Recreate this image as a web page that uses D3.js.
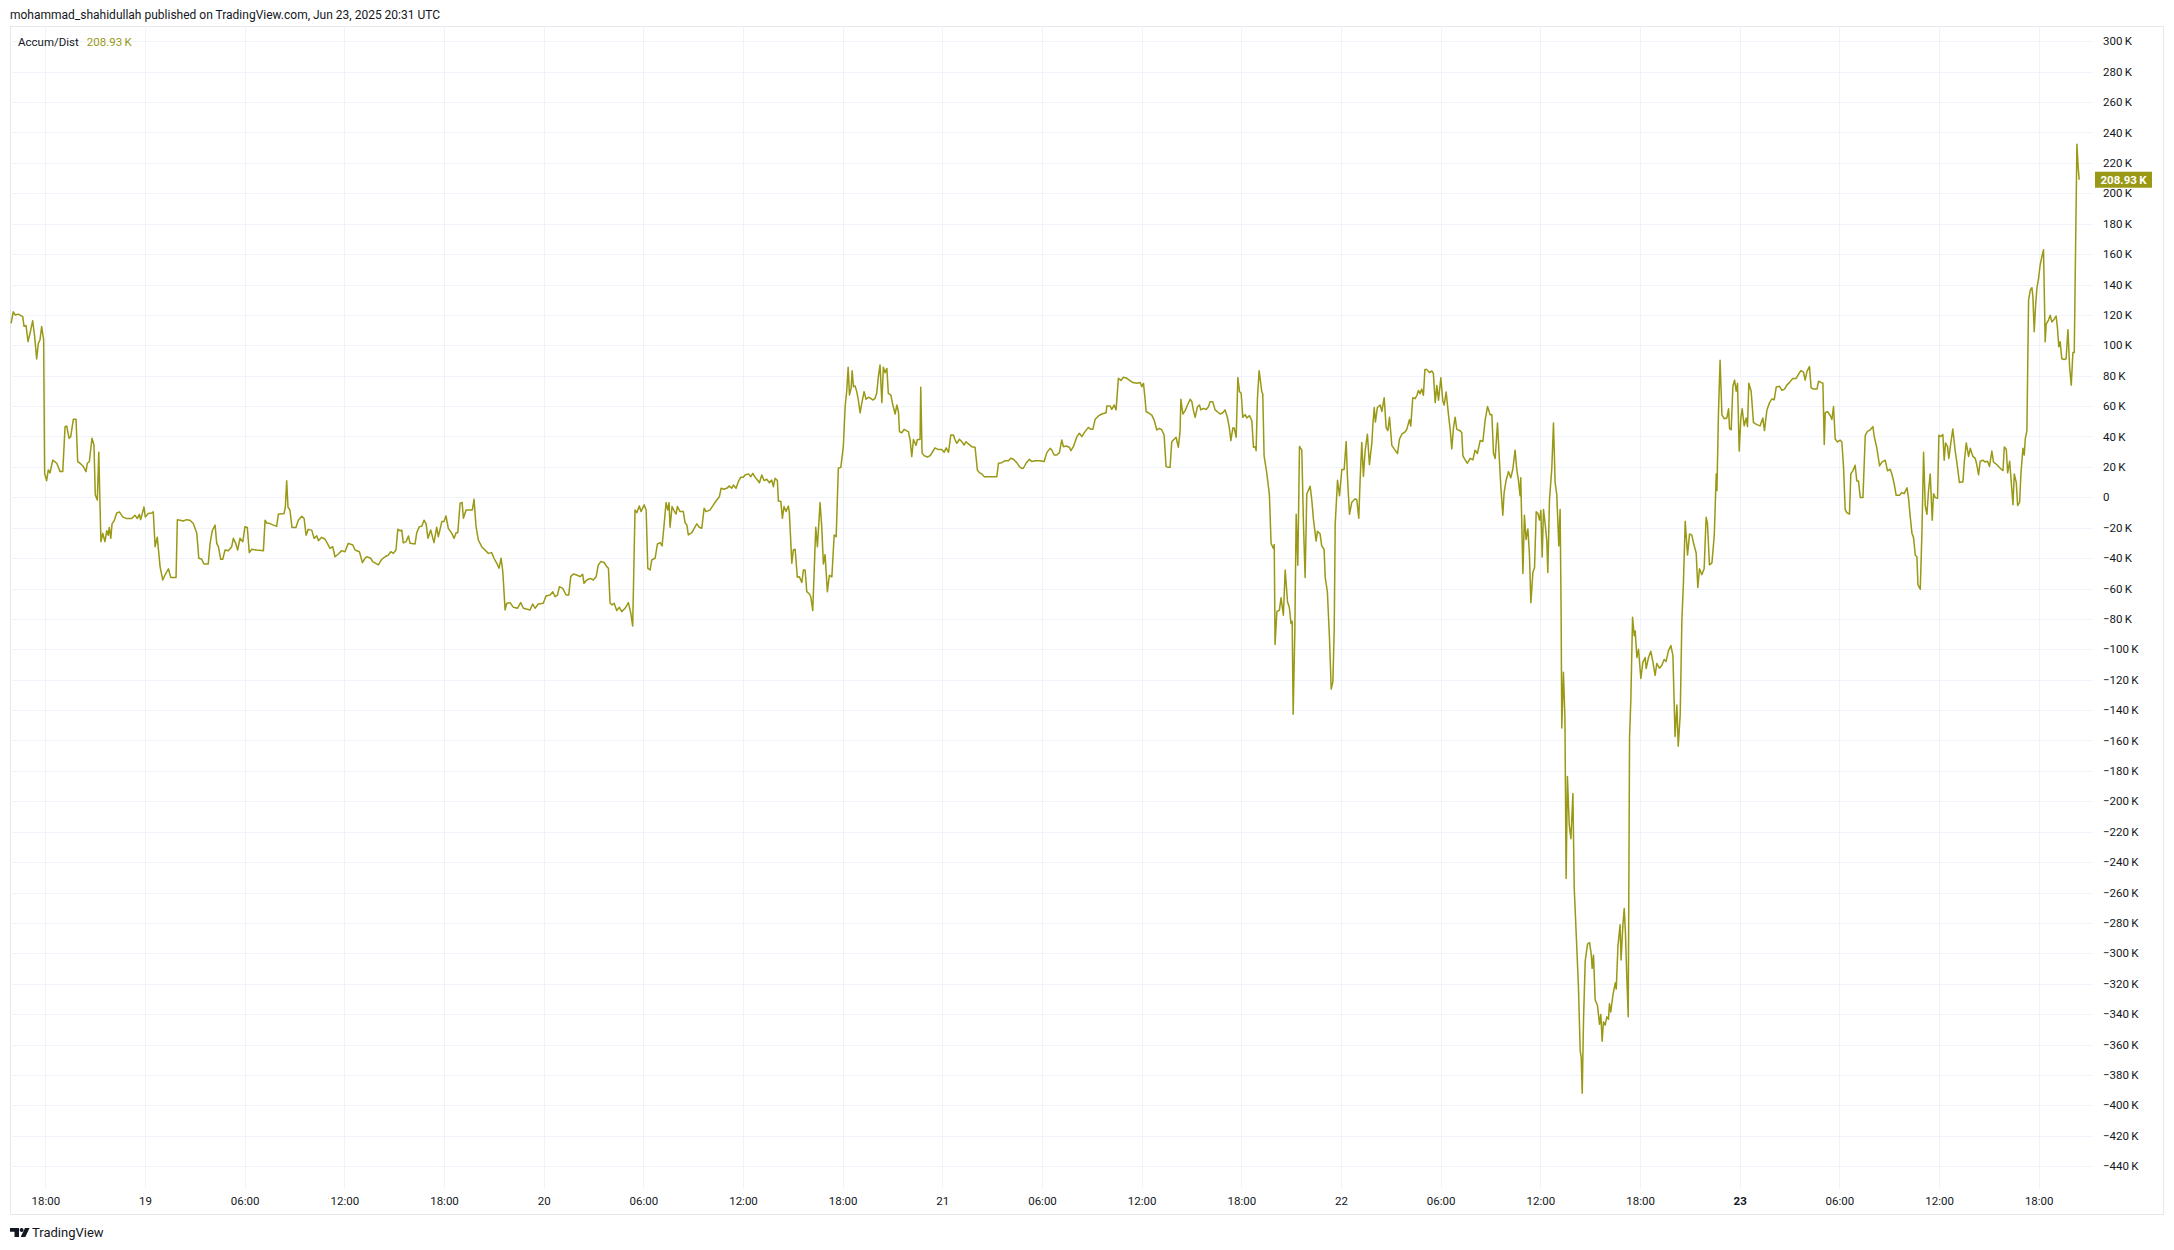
<!DOCTYPE html>
<html><head><meta charset="utf-8">
<script src="https://cdn.jsdelivr.net/npm/d3@7"></script>
<style>html,body{margin:0;padding:0;background:#fff;}svg{display:block;font-family:Roboto,"Noto Sans",sans-serif;}</style>
</head><body><svg id="chart" width="2174" height="1250"></svg>
<script>
// ---- DATA ----
// time of each point, hours since 2025-06-18 00:00 UTC
const hours = [
15.94,16.07,16.18,16.37,16.64,16.72,16.84,16.96,17.08,17.24,17.36,17.48,17.58,17.68,17.78,17.90,17.96,18.08,18.18,18.28,
18.45,18.69,18.89,19.05,19.19,19.29,19.43,19.53,19.69,19.85,19.95,20.09,20.29,20.45,20.53,20.65,20.81,20.93,21.01,21.13,
21.22,21.29,21.35,21.46,21.59,21.70,21.79,21.85,21.94,22.02,22.14,22.30,22.46,22.66,22.90,23.20,23.40,23.54,23.66,23.74,
23.94,24.02,24.20,24.41,24.50,24.61,24.74,24.91,25.07,25.21,25.41,25.55,25.87,25.95,26.11,26.31,26.51,26.71,26.91,27.12,
27.24,27.42,27.55,27.81,27.92,28.05,28.22,28.32,28.42,28.56,28.68,28.82,29.02,29.22,29.32,29.46,29.58,29.72,29.89,30.02,
30.16,30.28,30.43,30.73,31.13,31.23,31.33,31.53,31.73,31.93,32.03,32.37,32.45,32.53,32.61,32.73,32.85,33.09,33.23,33.44,
33.58,33.70,33.83,34.04,34.18,34.34,34.44,34.64,34.84,34.98,35.14,35.30,35.44,35.64,35.84,36.04,36.24,36.51,36.65,36.91,
37.09,37.25,37.35,37.59,37.71,38.05,38.25,38.45,38.65,38.80,38.95,39.11,39.22,39.36,39.46,39.55,39.72,39.86,39.96,40.26,
40.36,40.52,40.66,40.80,40.92,41.04,
41.20,41.40,41.56,41.66,41.87,42.00,42.12,42.26,42.47,42.61,42.73,42.83,42.97,43.09,43.17,43.33,43.57,43.71,43.81,43.93,
44.07,44.27,44.47,44.67,44.87,45.01,45.18,45.31,45.44,45.54,45.68,45.78,45.98,46.18,46.42,46.62,46.78,47.02,47.18,47.34,
47.48,47.68,47.98,48.14,48.39,48.55,48.69,48.83,48.95,49.15,49.35,49.51,49.63,49.79,49.99,50.19,50.35,50.43,50.60,50.80,
50.99,51.16,51.29,51.44,51.64,51.80,51.90,52.00,52.12,52.24,52.40,52.56,52.70,52.90,53.10,53.24,53.36,53.50,53.61,53.76,
53.86,54.05,54.17,54.27,54.41,54.51,54.71,54.85,55.01,55.13,55.25,55.37,55.47,55.55,55.61,55.73,55.85,55.97,56.05,56.21,
56.41,56.51,56.62,56.71,56.92,57.12,57.22,57.37,57.52,57.66,57.78,58.02,58.22,58.42,58.58,58.68,58.86,59.02,59.18,59.32,
59.42,59.58,59.72,59.87,60.02,60.12,60.33,60.47,60.59,60.73,60.87,60.99,61.13,61.27,61.43,61.59,61.73,61.83,61.93,62.07,
62.13,62.28,62.37,62.47,62.59,62.73,62.79,62.94,63.03,63.14,63.27,63.39,63.54,63.64,63.74,63.84,64.00,64.08,64.20,64.38,
64.48,64.64,64.74,64.84,64.94,65.08,65.20,65.35,65.49,65.61,65.74,65.89,
66.04,66.15,66.25,66.33,66.41,66.51,66.57,66.65,66.75,66.85,66.95,67.05,67.15,67.29,67.41,67.55,67.69,67.81,67.95,68.05,
68.15,68.25,68.36,68.45,68.55,68.66,68.75,68.90,69.02,69.16,69.26,69.36,69.42,69.56,69.70,69.82,69.96,70.06,70.16,70.26,
70.42,70.50,70.66,70.70,70.78,70.90,71.10,71.27,71.43,71.56,71.76,71.97,72.11,72.23,72.37,72.51,72.67,72.77,72.87,73.03,
73.17,73.31,73.43,73.57,73.77,73.97,74.11,74.23,74.38,74.52,74.88,75.28,75.38,75.58,75.78,75.98,76.12,76.28,76.48,76.64,
76.78,76.88,77.04,77.24,77.39,77.59,77.89,78.13,78.29,78.49,78.59,78.73,78.89,79.05,79.19,79.29,79.45,79.65,79.74,79.89,
80.10,80.25,80.40,80.59,80.79,80.94,81.06,81.20,81.40,81.60,81.86,81.90,82.10,82.20,82.34,82.46,82.54,82.60,82.75,82.90,
83.11,83.30,83.47,83.71,83.91,84.01,84.11,84.21,84.27,84.41,84.61,84.75,84.91,85.07,85.21,85.35,85.47,85.61,85.71,85.81,
85.95,86.07,86.21,86.31,86.36,86.48,86.62,86.76,86.92,87.02,87.12,87.22,87.36,87.48,87.56,87.72,87.88,88.02,88.12,88.28,
88.42,88.56,88.72,88.88,89.02,89.16,89.28,89.37,89.49,89.57,89.69,89.79,89.89,89.99,90.09,90.23,90.33,90.49,90.63,90.73,
90.83,90.89,90.97,91.07,91.23,91.29,
91.37,91.53,91.69,91.79,91.93,91.98,92.03,92.14,92.29,92.39,92.53,92.64,92.78,92.89,92.99,93.06,93.12,93.22,93.30,93.40,
93.50,93.64,93.74,93.84,93.94,94.14,94.24,94.34,94.50,94.58,94.74,94.84,94.98,95.05,95.18,95.30,95.41,95.51,95.59,95.65,
95.79,95.91,96.05,96.19,96.31,96.39,96.51,96.65,96.85,96.95,97.07,97.15,97.25,97.35,97.45,97.59,97.71,97.86,97.92,98.00,
98.07,98.19,98.36,98.46,98.60,98.72,98.82,98.92,99.06,99.20,99.40,99.52,99.66,99.86,99.96,100.12,100.20,100.32,100.46,100.57,
100.66,100.76,100.86,100.96,101.05,101.17,101.32,101.47,101.56,101.67,101.77,101.87,102.01,102.13,102.21,102.33,102.47,102.57,102.67,102.77,
102.87,102.97,103.17,103.27,103.34,103.47,103.61,103.77,103.94,104.07,104.21,104.38,104.54,104.68,104.82,104.98,105.08,105.18,105.28,105.42,
105.54,105.62,105.74,105.82,105.94,106.08,106.22,106.34,106.48,106.58,106.68,106.78,106.82,106.95,107.04,107.14,107.25,107.34,107.43,107.55,
107.65,107.75,107.85,107.95,108.03,108.11,108.19,108.29,108.39,108.45,108.55,108.69,108.79,108.89,108.99,109.11,109.19,109.25,109.29,109.39,
109.48,109.55,109.63,109.74,109.84,109.96,110.04,110.16,110.29,110.40,110.46,110.52,110.60,110.70,110.84,110.96,111.06,111.12,111.20,111.30,
111.44,111.56,111.64,111.72,111.80,111.90,112.00,112.10,112.16,112.24,112.37,112.51,112.57,112.67,112.80,112.86,112.97,113.05,113.12,113.21,
113.29,113.37,113.45,113.55,113.65,113.71,113.81,113.91,114.05,114.17,114.31,114.37,114.51,114.65,
114.77,114.91,115.01,115.17,115.31,115.45,115.57,115.71,115.86,115.98,116.05,116.11,116.22,116.30,116.42,116.52,116.61,116.72,116.86,116.98,
117.12,117.22,117.38,117.48,117.58,117.72,117.86,117.98,118.06,118.18,118.33,118.47,118.59,118.63,118.72,118.82,118.93,119.07,119.23,119.33,
119.39,119.49,119.59,119.69,119.79,119.87,119.97,120.07,120.15,120.27,120.39,120.47,120.55,120.69,120.83,121.03,121.23,121.39,121.49,121.64,
121.79,121.94,122.08,122.20,122.40,122.54,122.70,122.84,123.00,123.20,123.40,123.54,123.68,123.84,123.94,124.05,124.20,124.30,124.44,124.65,
124.75,124.89,125.01,125.09,125.15,125.29,125.45,125.55,125.65,125.75,125.89,126.05,126.15,126.25,126.35,126.45,126.61,126.69,126.81,126.95,
127.05,127.15,127.26,127.42,127.56,127.69,127.86,128.02,128.10,128.26,128.42,128.56,128.76,128.90,129.06,129.16,129.30,129.42,129.62,129.76,
129.90,130.07,130.16,130.27,130.37,130.46,130.57,130.67,130.73,130.87,130.97,131.07,131.17,131.27,131.37,131.47,131.59,131.67,131.77,131.91,
131.99,132.11,132.23,132.31,132.39,132.51,132.59,132.71,132.83,132.97,133.07,133.23,133.44,133.52,133.64,133.78,133.88,134.04,134.18,134.28,
134.38,134.48,134.64,134.78,134.92,135.04,135.18,135.28,135.44,135.58,135.73,135.85,135.93,136.05,136.13,136.25,136.33,136.45,136.53,136.65,
136.73,136.85,136.93,137.05,137.13,137.19,137.29,137.39,137.49,137.59,137.65,137.73,137.81,137.89,137.99,138.09,138.19,138.29,138.39,138.45,
138.59,138.69,138.79,138.93,139.05,139.13,139.21,139.29,139.39,139.53,139.65,139.76,139.86,139.96,140.06,140.14,140.22,140.30,140.38,140.44
];
// Accum/Dist value, thousands
const valuesK = [
114.4,122,120,120.5,118.9,112.5,113,102.4,107.9,116.2,105.7,91,101.3,103.5,112.3,103.5,15.8,10.9,18,16,
24.5,22.4,16.9,16.9,46.5,46.9,38.8,39.9,51.4,51.4,23.4,22.4,20.2,16.9,22.4,23.4,38.8,34.4,1.5,-1.8,
29.6,-4,-29.2,-23.7,-29.2,-22,-24.9,-19.8,-27,-17.3,-15.6,-10.3,-9.6,-12.9,-14,-14,-11.8,-14,-11.2,-14.7,
-6.4,-12.9,-10.7,-10.3,-9.6,-32.5,-26.3,-45.6,-54.4,-51.1,-47,-52.7,-52.7,-14.7,-15.1,-15.6,-14.7,-15.1,-17.3,-23.7,
-40.1,-40.8,-43.9,-43.9,-30.3,-22,-18.3,-30.3,-32.5,-40.8,-40.8,-34.7,-35.1,-32.5,-27,-30.3,-34.7,-27,-29.2,-19.3,
-19.8,-36.4,-34.2,-34.7,-35.1,-15.1,-16.9,-17.3,-18.3,-19,-11.2,-10.7,-6.4,10.9,-6.4,-8.6,-19.8,-19.8,-15.1,-12.5,
-14,-24.9,-21.1,-21.6,-27,-25.4,-28.5,-26.3,-27.6,-30.3,-33.6,-32.5,-39.1,-37.3,-35.1,-35.8,-30.3,-31.4,-34.7,-35.8,
-43,-40.1,-39.1,-40.1,-42.3,-44.5,-40.8,-39.1,-38,-35.8,-36.9,-34.7,-21.1,-22,-21.6,-30,-29.2,-25.4,-30.3,-30.7,
-23.3,-19.3,-19,-15.1,-17.3,-27,
-21.5,-29.8,-19.7,-25.9,-16,-16,-12.3,-20.4,-23.7,-27,-23.3,-23.3,-3.9,-3.3,-13.8,-8.3,-8.3,-8.3,-1.3,-19.3,
-28.1,-32.5,-34.7,-36.9,-36.4,-40.1,-43.4,-46.7,-40.1,-48.9,-74.1,-69.7,-69.3,-72.4,-73,-69.3,-73,-73.7,-74.1,-70.2,
-73,-70.2,-69.7,-64.9,-64.3,-62.1,-65.4,-64.3,-58.8,-59.9,-64.3,-64.3,-52.2,-50.5,-51.1,-52.2,-50.7,-56.6,-54.4,-53.3,
-54.4,-52.2,-44.5,-42.3,-42.9,-45.6,-46.7,-69.7,-70.8,-69.7,-74.5,-72.4,-75.2,-73,-69.3,-75.9,-84.7,-8.3,-10.1,-5.7,
-9.4,-5,-8.3,-46.7,-47.8,-41.2,-40.1,-30.7,-29.8,-32,-18.2,-3.5,-8.3,-3.5,-19.7,-6.1,-8.8,-11,-6.1,-9.4,
-9.4,-16.6,-18.2,-24.8,-23.3,-19.3,-17.5,-19.7,-20.4,-7.2,-9.4,-8.3,-5,-1.8,0.4,5.9,5.3,5.9,7.5,5.9,
8.1,5.9,10.3,13.2,13.2,14.7,15.4,13.6,15.8,13.2,11.4,9.6,14.7,11,11.9,9.6,11.4,7,12.5,11,
-2.4,-2.8,-13.8,-6.1,-9.4,-5.7,-10.1,-43.4,-34.7,-34.2,-52.6,-52.2,-56.1,-47.8,-47.8,-62.1,-63.6,-65.4,-74.5,-19.7,
-32.5,-3.5,-19.3,-43.8,-37.7,-62.1,-51.3,-52.4,-24.8,-25.9,19.1,19.7,
33.3,59.6,70.6,85.5,67.3,71.7,83.3,72.8,73.2,69.5,63.6,55.6,61.8,69.5,64.5,65.8,65.1,64,65.1,68.4,
79.4,87.1,62.3,85.5,82,84.8,68.4,67.3,60.7,54.8,60.7,56.3,43.2,42.5,44.7,43.9,43.2,37.7,26.8,38,
34.2,38,38,72.4,29.2,27.4,26.5,27.4,30.3,32.5,31.4,31.4,29.6,32.5,29.6,41,41,37.7,35.5,38.2,
36.6,34.4,36.6,35.1,33.3,32.9,18,16.2,15.4,13.6,13.6,13.6,22.4,22.8,24.1,24.1,25.7,25,22.8,20.2,
19.1,19.1,22.4,25,23.5,24.1,24.1,23.5,29.4,32.2,31.1,27.8,27.8,29.4,37.7,33.3,33.7,32.9,30.7,33.3,
39.9,42.1,39.9,43.2,46,44.7,44.7,51.3,53.5,54.8,55.6,60,60,57.8,60.7,57.5,69.5,78.3,76.8,79,
78.3,76.8,75.5,75,75.5,72.8,75,64,56.3,55.6,54.1,50.8,44.3,45.4,44.3,41,20.2,19.7,19.7,36.6,
38.2,39.5,32.9,43.2,64.5,54.8,57,60.7,64.5,62.9,57,52.6,59.6,60.7,57.5,58.5,57.8,59.6,62.9,62.9,
57.5,56.3,54.8,55.6,57.5,52.6,45.6,37.3,45.6,45.6,39.5,78.8,69.5,68.4,52.6,54.4,52.2,53.7,50.4,32.9,
33.3,30.7,65.1,83.3,69.5,68,
27.2,16,1.6,-30.4,-33.6,-31,-96.8,-75.1,-74.4,-66.1,-77.6,-47.9,-68.7,-72.5,-83.1,-81.5,-142.8,-88.2,-11.2,-44.7,
33.5,31,-17.6,-52.7,2.2,7.3,-1.6,-14.4,-28.8,-22.4,-24,-32,-34.2,-52.7,-62.3,-91.1,-126.2,-121.4,-87.9,-17.6,
11.2,1,18.3,18.3,36.7,12.8,-11.2,-3.2,-1,-1.6,-13.7,11.2,36.1,13.7,30.4,41.5,21.4,36.1,47.9,59.1,
49.5,59.1,60.7,56.5,65.5,45.7,43.8,52.7,34.2,31.9,28.8,38.3,41.5,43.1,44.7,51.1,46.9,65.5,64.9,67.1,
70.3,68.1,71.2,67.1,84,84,82.1,83.1,81.5,62.3,73.5,63.9,78.6,63.3,60.7,69.3,54.3,44.7,31.9,45.7,
52.7,44.7,43.8,42.5,27.2,24.6,22.4,25.6,24.6,31,28.8,37.4,36.7,51.1,59.7,54.3,54.3,28.8,25.6,48.9,
23.6,7.3,-11.8,3.2,11.2,16.9,12.8,18.3,31,18.3,11.2,1,12.8,-50.2,-11.8,-27.8,-20.8,-36.7,-69.3,-49.5,
-46.3,-9.5,-10.5,-15,-8.6,-39.3,-8,-17.6,-28.8,-49.5,-1.6,19.2,48.9,9.6,1.6,-32,-8,-75.1,-151.8,-115.1,
-145.4,-250.8,-183.7,-215.7,-224.6,-194.9,-257.2,-287.6,-321.1,-364.2,-368.4,-392,-343.4,-305.1,-293.9,-293,-300.3,-309.9,-301.2,-330.6,
-334.4,-346.6,-340.2,-357.8,-345,-347.3,-341.8,-343.4,-333.2,-338.6,-327.4,-319.4,-323.5,-295.4,-281.2,-304.4,-281.2,-270.6,-285.9,-317.2,
-341.8,-158,-132.4,-78.9,-91.1,-87.9,-105.4,-100,-119.2,-108.6,-105.4,-112.7,-105.4,-101.3,
-108,-117.1,-109.3,-112.4,-110.6,-106.7,-108,-101,-97.6,-104.1,-132.7,-157.3,-136.6,-163.8,-143.1,-80.7,-57.3,-15.8,-37.9,-24.1,
-24.9,-30.1,-36.6,-59.4,-47,-50.9,-47,-13.2,-17.1,-44.4,-43.1,-24.9,15.4,4.5,54.3,90.1,54.3,51.7,52.2,58.2,
45.2,44.4,73,77.1,69.8,75,30.4,52.2,58.2,47,52.2,46.5,75,69.8,49.1,47.8,47,52.2,43.9,57.5,
62.1,64.7,64.2,72.5,73,70.4,71.2,73.8,75.6,78.2,78.2,80.8,83.4,82.3,77.1,82.8,86,72,71.2,71.2,
76.4,75.6,75,34.8,55.6,56.4,53.8,51.2,59.7,38.3,36.4,37.6,36.4,20.3,-8,-10.1,-11.1,15.4,17.4,21.1,
10.7,10.7,-0.2,-0.2,40.8,43.4,44.4,46.5,40,32.2,20.6,23.2,24.4,17.4,18.5,15.4,8.9,1.3,1.3,3.1,
2.4,6.3,-0.2,-13.2,-23.6,-26.2,-37.9,-39.2,-57.4,-60.5,-23.6,29.6,-5.5,-11.2,4.5,15.4,-15.1,2.4,-0.2,-0.7,
40.8,40,41.3,24.4,35.8,33.5,25.6,35.8,44.9,30.9,23.2,9.7,10.2,23.2,35.8,26.9,32.2,26.9,25.6,21.1,
14.8,23.7,24.4,23.2,23.7,20.3,30.4,23.2,21.9,20.3,18.6,17.6,33.1,31.6,16.1,23.7,12.8,-4.9,15.4,9.7,
-5.4,-3.3,15.4,32.2,27.8,38.5,43.9,129.6,136.1,137.9,132.2,108.9,125.7,137.4,143.9,153,158.2,162.9,102.4,114,
116.6,119.8,115.4,117.2,119.2,111.3,99,102.4,91.2,90.7,91.2,110.3,86,73.8,95.3,95.3,163.4,232.2,216.6,208.93
];
const lastValueK = 208.93;
const yTicksK = [300,280,260,240,220,200,180,160,140,120,100,80,60,40,20,0,-20,-40,-60,-80,-100,-120,-140,-160,-180,-200,-220,-240,-260,-280,-300,-320,-340,-360,-380,-400,-420,-440];
const xTickTimes = ["2025-06-18T18:00Z","2025-06-19T00:00Z","2025-06-19T06:00Z","2025-06-19T12:00Z","2025-06-19T18:00Z","2025-06-20T00:00Z","2025-06-20T06:00Z","2025-06-20T12:00Z","2025-06-20T18:00Z","2025-06-21T00:00Z","2025-06-21T06:00Z","2025-06-21T12:00Z","2025-06-21T18:00Z","2025-06-22T00:00Z","2025-06-22T06:00Z","2025-06-22T12:00Z","2025-06-22T18:00Z","2025-06-23T00:00Z","2025-06-23T06:00Z","2025-06-23T12:00Z","2025-06-23T18:00Z"];
const xTickLabels = ["18:00","19","06:00","12:00","18:00","20","06:00","12:00","18:00","21","06:00","12:00","18:00","22","06:00","12:00","18:00","23","06:00","12:00","18:00"];
const headerText = "mohammad_shahidullah published on TradingView.com, Jun 23, 2025 20:31 UTC";
const seriesName = "Accum/Dist";

// ---- LAYOUT ----
const C = {line:"#999915", text:"#131722", grid:"#f0f3fa", frame:"#e6e8ee"};
const P = {left:10, right:2093, top:26, bottom:1188, frameRight:2163, frameBottom:1214};
const t0 = Date.UTC(2025,5,18,0,0);
const data = hours.map((h,i)=>({date:new Date(t0 + h*3600000), v:valuesK[i]}));

const svg = d3.select("#chart");
const x = d3.scaleUtc().domain([new Date("2025-06-18T18:00Z"), new Date("2025-06-23T18:00Z")]).range([45.3, 2038.7]);
const y = d3.scaleLinear().domain([-440, 300]).range([1166.1, 41.3]);
const fmtK = v => v === 0 ? "0" : (v < 0 ? "\u2212" : "") + Math.abs(v) + "\u2009K";

svg.append("rect").attr("width",2174).attr("height",1250).attr("fill","#fff");

// header
svg.append("text").attr("x",10).attr("y",19).attr("font-size",12).attr("fill",C.text).text(headerText);

// frame
svg.append("rect").attr("x",P.left+0.5).attr("y",P.top+0.5).attr("width",P.frameRight-P.left).attr("height",P.frameBottom-P.top)
  .attr("fill","none").attr("stroke",C.frame).attr("stroke-width",1);

// grid
const g = svg.append("g");
g.selectAll("line.h").data(yTicksK).join("line").attr("class","h")
  .attr("x1",P.left).attr("x2",P.right).attr("y1",d=>Math.round(y(d))+0.5).attr("y2",d=>Math.round(y(d))+0.5)
  .attr("stroke",C.grid);
g.selectAll("line.v").data(xTickTimes).join("line").attr("class","v")
  .attr("x1",d=>Math.round(x(new Date(d)))+0.5).attr("x2",d=>Math.round(x(new Date(d)))+0.5)
  .attr("y1",P.top).attr("y2",P.bottom).attr("stroke",C.grid);

// clip + line
svg.append("clipPath").attr("id","plotclip").append("rect")
  .attr("x",P.left).attr("y",P.top).attr("width",P.right-P.left).attr("height",P.bottom-P.top);
const line = d3.line().x(d=>x(d.date)).y(d=>y(d.v));
svg.append("path").datum(data).attr("clip-path","url(#plotclip)")
  .attr("d",line).attr("fill","none").attr("stroke",C.line).attr("stroke-width",1.5).attr("stroke-linejoin","round");

// y axis labels (right)
const yAxis = d3.axisRight(y).tickValues(yTicksK).tickFormat(fmtK).tickSize(0).tickPadding(0);
const ya = svg.append("g").attr("transform",`translate(2103,0)`).call(yAxis);
ya.select(".domain").remove();
ya.selectAll("text").attr("font-size",11.5).attr("fill",C.text).attr("font-family",'Roboto,"Noto Sans",sans-serif').attr("text-anchor","start");

// x axis labels
const xAxis = d3.axisBottom(x).tickValues(xTickTimes.map(d=>new Date(d))).tickFormat((d,i)=>xTickLabels[i]).tickSize(0).tickPadding(0);
const xa = svg.append("g").attr("transform",`translate(0,1197)`).call(xAxis);
xa.select(".domain").remove();
xa.selectAll("text").attr("font-size",11.5).attr("fill",C.text).attr("font-family",'Roboto,"Noto Sans",sans-serif')
  .attr("font-weight",(d,i)=>xTickLabels[i]==="23"?"bold":"normal");

// legend
const lg = svg.append("text").attr("x",18).attr("y",46).attr("font-size",11.5).attr("fill",C.text);
lg.append("tspan").text(seriesName);
lg.append("tspan").attr("dx",8).attr("fill",C.line).text(lastValueK.toFixed(2) + "\u2009K");

// last value label
const ly = y(lastValueK);
svg.append("rect").attr("x",2095).attr("y",ly-8).attr("width",57).attr("height",16).attr("fill",C.line);
svg.append("text").attr("x",2123.5).attr("y",ly).attr("dy","0.35em").attr("text-anchor","middle").attr("font-size",11.5)
  .attr("font-weight","bold").attr("fill","#fff").text(lastValueK.toFixed(2)+"\u2009K");

// TradingView logo
const lgY = 1228;
const logo = svg.append("g").attr("fill","#131722");
logo.append("path").attr("d",`M10,${lgY} h9 v9 h-4.5 v-5.2 h-4.5 z`);
logo.append("circle").attr("cx",21.6).attr("cy",lgY+2).attr("r",2);
logo.append("path").attr("d",`M25,${lgY} h4.6 l-4.3,9 h-4.6 z`);
svg.append("text").attr("x",32).attr("y",lgY+9).attr("font-size",13).attr("fill","#131722").text("TradingView");
</script>
</body></html>
